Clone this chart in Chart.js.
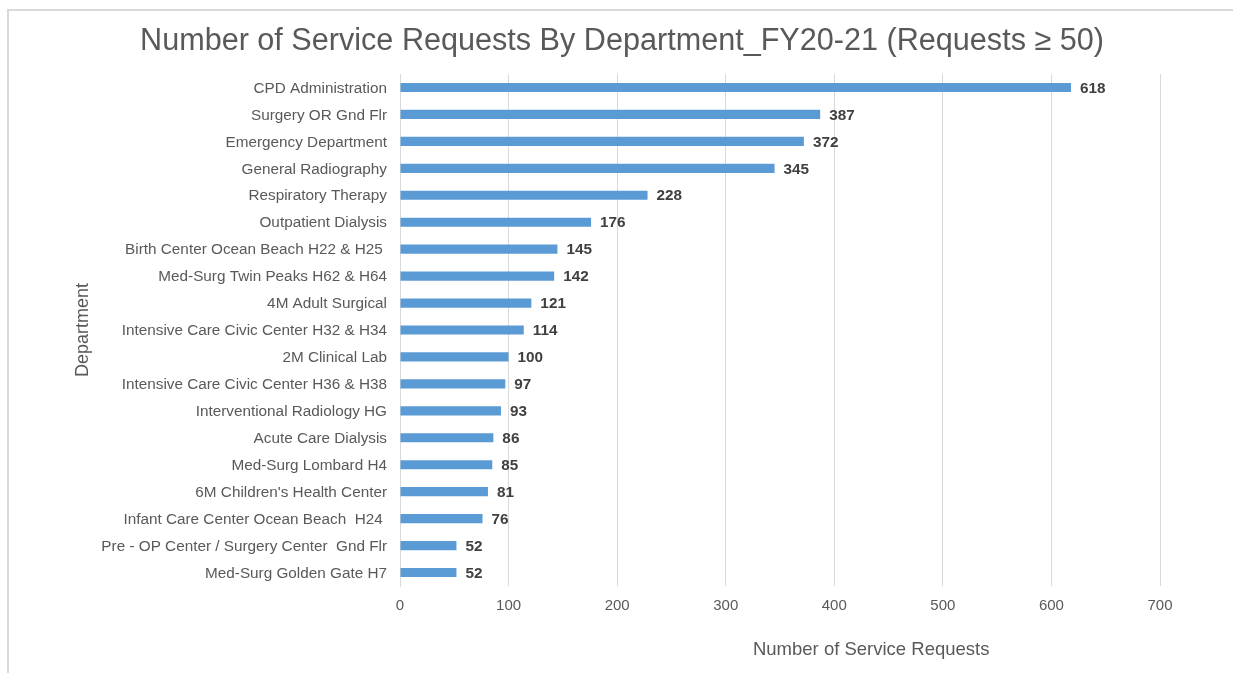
<!DOCTYPE html>
<html>
<head>
<meta charset="utf-8">
<title>Number of Service Requests By Department_FY20-21</title>
<script src="https://cdn.jsdelivr.net/npm/chart.js@4.4.1/dist/chart.umd.min.js"></script>
<style>
  html, body { margin: 0; padding: 0; background: #ffffff; }
  canvas { display: block; }
</style>
</head>
<body>
<canvas id="chart" width="1233" height="673"></canvas>
<script>
// Departments with at least 50 service requests in FY20-21
const departments = [
  "CPD Administration",
  "Surgery OR Gnd Flr",
  "Emergency Department",
  "General Radiography",
  "Respiratory Therapy",
  "Outpatient Dialysis",
  "Birth Center Ocean Beach H22 & H25 ",
  "Med-Surg Twin Peaks H62 & H64",
  "4M Adult Surgical",
  "Intensive Care Civic Center H32 & H34",
  "2M Clinical Lab",
  "Intensive Care Civic Center H36 & H38",
  "Interventional Radiology HG",
  "Acute Care Dialysis",
  "Med-Surg Lombard H4",
  "6M Children's Health Center",
  "Infant Care Center Ocean Beach  H24 ",
  "Pre - OP Center / Surgery Center  Gnd Flr",
  "Med-Surg Golden Gate H7"
];
const requests = [618, 387, 372, 345, 228, 176, 145, 142, 121, 114, 100, 97, 93, 86, 85, 81, 76, 52, 52];
const xTicks = [0, 100, 200, 300, 400, 500, 600, 700];

const chartTitle = "Number of Service Requests By Department_FY20-21 (Requests \u2265 50)";
const xAxisTitle = "Number of Service Requests";
const yAxisTitle = "Department";

const FONT = "'Liberation Sans', Arial, sans-serif";
const TEXT_GREY = "#595959";

// Frame, chart title, x-axis title and value labels
const decorations = {
  id: "decorations",
  beforeDraw(chart) {
    const ctx = chart.ctx;
    ctx.save();
    ctx.strokeStyle = "#d9d9d9";
    ctx.lineWidth = 2;
    ctx.beginPath();
    ctx.moveTo(8, chart.height + 2);
    ctx.lineTo(8, 10);
    ctx.lineTo(chart.width + 2, 10);
    ctx.stroke();
    ctx.restore();
  },
  afterDatasetsDraw(chart) {
    const ctx = chart.ctx;
    const meta = chart.getDatasetMeta(0);
    const values = chart.data.datasets[0].data;
    ctx.save();
    ctx.font = "bold 15.3px " + FONT;
    ctx.fillStyle = "#404040";
    ctx.textAlign = "left";
    ctx.textBaseline = "middle";
    meta.data.forEach((bar, i) => {
      ctx.fillText(String(values[i]), bar.x + 9, bar.y + 1);
    });
    ctx.restore();
  },
  afterDraw(chart) {
    const ctx = chart.ctx;
    const area = chart.chartArea;
    ctx.save();
    ctx.fillStyle = TEXT_GREY;
    ctx.textAlign = "center";
    ctx.textBaseline = "alphabetic";
    ctx.font = "30.6px " + FONT;
    ctx.fillText(chartTitle, 622, 50);
    ctx.font = "18.5px " + FONT;
    ctx.fillText(xAxisTitle, area.left + (area.right - area.left) * 0.62, 655);
    ctx.restore();
  }
};

new Chart(document.getElementById("chart"), {
  type: "bar",
  data: {
    labels: departments,
    datasets: [{
      data: requests,
      backgroundColor: "#5b9bd5",
      borderWidth: 0,
      categoryPercentage: 1.0,
      barPercentage: 0.34
    }]
  },
  options: {
    indexAxis: "y",
    responsive: false,
    animation: false,
    devicePixelRatio: 1,
    layout: { padding: { left: 68, top: 74, right: 73, bottom: 0 } },
    plugins: {
      legend: { display: false },
      title: { display: false },
      tooltip: { enabled: false }
    },
    scales: {
      x: {
        min: 0,
        max: 700,
        afterBuildTicks(scale) {
          scale.ticks = xTicks.map(v => ({ value: v }));
        },
        afterFit(scale) { scale.height = 87; },
        grid: { color: "#d9d9d9", lineWidth: 1, drawTicks: false },
        border: { display: false },
        ticks: {
          color: TEXT_GREY,
          font: { family: FONT, size: 15 },
          padding: 11
        },
        title: { display: false }
      },
      y: {
        afterFit(scale) { scale.width = 332; },
        grid: { display: false, drawTicks: false },
        border: { display: true, color: "#d9d9d9", width: 1 },
        ticks: {
          color: TEXT_GREY,
          font: { family: FONT, size: 15.3 },
          padding: 13,
          labelOffset: 1,
          autoSkip: false
        },
        title: {
          display: true,
          text: yAxisTitle,
          color: TEXT_GREY,
          font: { family: FONT, size: 18 },
          padding: { top: 4, bottom: 4 }
        }
      }
    }
  },
  plugins: [decorations]
});
</script>
</body>
</html>
